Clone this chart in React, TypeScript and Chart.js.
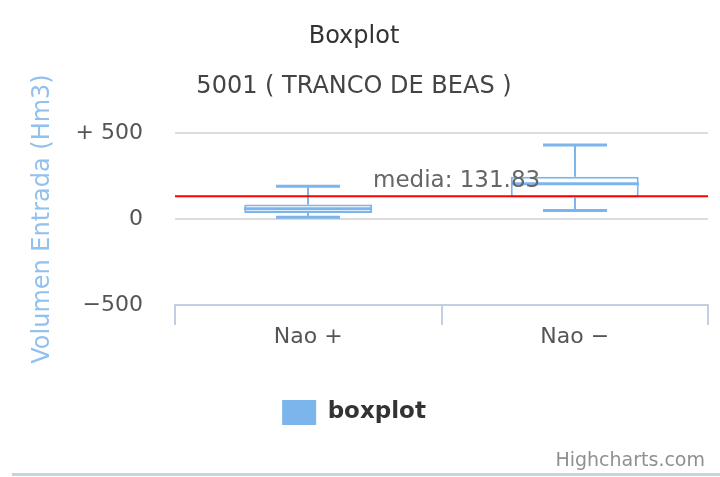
import React, { useEffect, useRef } from "react";
import { Chart, registerables } from "chart.js";

Chart.register(...registerables);

const categories = ["Nao +", "Nao −"];
const lowValues = [10, 50];
const q1Values = [35, 125];
const medianValues = [60, 205];
const q3Values = [85, 245];
const highValues = [190, 430];
const meanValue = 131.83;
const yTicks = [-500, 0, 500];

const FONT = "'DejaVu Sans', Verdana, sans-serif";
const BOX_COLOR = "#7cb5ec";

const boxPlugin = {
  id: "boxWhiskers",
  afterDatasetsDraw(chart: any) {
    const meta = chart.getDatasetMeta(0);
    const y = chart.scales.y;
    const ctx = chart.ctx;
    const line = (x1: number, y1: number, x2: number, y2: number) => {
      ctx.beginPath();
      ctx.moveTo(x1, y1);
      ctx.lineTo(x2, y2);
      ctx.stroke();
    };
    ctx.save();
    ctx.strokeStyle = BOX_COLOR;
    meta.data.forEach((bar: any, i: number) => {
      const x = Math.round(bar.x);
      const half = bar.width / 2;
      const cap = half / 2;
      const yHigh = y.getPixelForValue(highValues[i]);
      const yLow = y.getPixelForValue(lowValues[i]);
      const yQ1 = y.getPixelForValue(q1Values[i]);
      const yQ3 = y.getPixelForValue(q3Values[i]);
      const yMed = y.getPixelForValue(medianValues[i]);
      ctx.lineWidth = 2;
      line(x, yHigh, x, yQ3);
      line(x, yQ1, x, yLow);
      ctx.lineWidth = 3;
      line(x - cap, yHigh, x + cap, yHigh);
      line(x - cap, yLow, x + cap, yLow);
      line(x - half, yMed, x + half, yMed);
    });
    // mean line
    const area = chart.chartArea;
    const yMean = y.getPixelForValue(meanValue);
    ctx.strokeStyle = "#ff0000";
    ctx.lineWidth = 2;
    line(area.left, yMean, area.right, yMean);
    ctx.fillStyle = "#666666";
    ctx.font = `23px ${FONT}`;
    ctx.textAlign = "left";
    ctx.textBaseline = "alphabetic";
    ctx.fillText(`media: ${meanValue}`, area.left + 198, yMean - 9);
    ctx.restore();
  },
  afterDraw(chart: any) {
    const ctx = chart.ctx;
    ctx.save();
    ctx.fillStyle = "#909090";
    ctx.font = `19px ${FONT}`;
    ctx.textAlign = "right";
    ctx.textBaseline = "alphabetic";
    ctx.fillText("Highcharts.com", 705, 466);
    ctx.fillStyle = "#c3d6de";
    ctx.fillRect(12, 473, chart.width - 12, 3);
    ctx.restore();
  },
};

export default function App() {
  const ref = useRef<HTMLCanvasElement>(null);
  useEffect(() => {
    document.body.style.margin = "0";
    const canvas = ref.current!;
    const chart = new Chart(canvas, {
      type: "bar",
      data: {
        labels: categories,
        datasets: [
          {
            label: "boxplot",
            data: categories.map((_, i) => [q1Values[i], q3Values[i]]) as any,
            backgroundColor: "#ffffff",
            borderColor: BOX_COLOR,
            borderWidth: 2,
            borderSkipped: false,
            categoryPercentage: 1,
            barPercentage: 0.48,
          },
        ],
      },
      options: {
        responsive: false,
        animation: false,
        devicePixelRatio: 1,
        layout: { padding: { left: 0, right: 12, top: 0, bottom: 42 } },
        plugins: {
          tooltip: { enabled: false },
          title: {
            display: true,
            text: "Boxplot",
            color: "#333333",
            font: { family: FONT, size: 24, weight: "normal" },
            padding: { top: 22.6, bottom: 0 },
          },
          subtitle: {
            display: true,
            text: "5001 ( TRANCO DE BEAS )",
            color: "#444444",
            font: { family: FONT, size: 24, weight: "normal" },
            padding: { top: 21.2, bottom: 31.6 },
          },
          legend: {
            position: "bottom",
            labels: {
              boxWidth: 34,
              boxHeight: 25,
              padding: 10,
              color: "#333333",
              font: { family: FONT, size: 23, weight: "bold" },
              generateLabels: () => [
                {
                  text: "boxplot",
                  fillStyle: BOX_COLOR,
                  strokeStyle: BOX_COLOR,
                  lineWidth: 0,
                  hidden: false,
                  datasetIndex: 0,
                  fontColor: "#333333",
                } as any,
              ],
            },
          },
        },
        scales: {
          x: {
            offset: true,
            grid: {
              display: true,
              offset: true,
              drawOnChartArea: false,
              drawTicks: true,
              tickLength: 20,
              tickColor: "#c0d0e0",
              color: "#c0d0e0",
              lineWidth: 2,
            },
            border: { display: true, color: "#c0d0e0", width: 2 },
            ticks: {
              color: "#555555",
              font: { family: FONT, size: 22 },
              padding: -1,
            },
            afterFit: (s: any) => {
              s.height = 85;
            },
          },
          y: {
            min: -500,
            max: 500,
            afterBuildTicks: (s: any) => {
              s.ticks = yTicks.map((v) => ({ value: v }));
            },
            grid: {
              color: (c: any) => (c.tick && c.tick.value === -500 ? "rgba(0,0,0,0)" : "#dcdcdc"),
              lineWidth: 2,
              drawTicks: false,
            },
            border: { display: false },
            ticks: {
              color: "#555555",
              font: { family: FONT, size: 22 },
              padding: 32,
              callback: (v: any) => (v > 0 ? `+ ${v}` : v < 0 ? `−${Math.abs(v)}` : `${v}`),
            },
            title: {
              display: true,
              text: "Volumen Entrada (Hm3)",
              color: "#92c1ee",
              font: { family: FONT, size: 24 },
              padding: { top: 28, bottom: 0 },
            },
            afterFit: (s: any) => {
              s.width = 175;
            },
          },
        },
      },
      plugins: [boxPlugin],
    });
    return () => chart.destroy();
  }, []);
  return <canvas ref={ref} width={720} height={477} style={{ display: "block" }} />;
}
